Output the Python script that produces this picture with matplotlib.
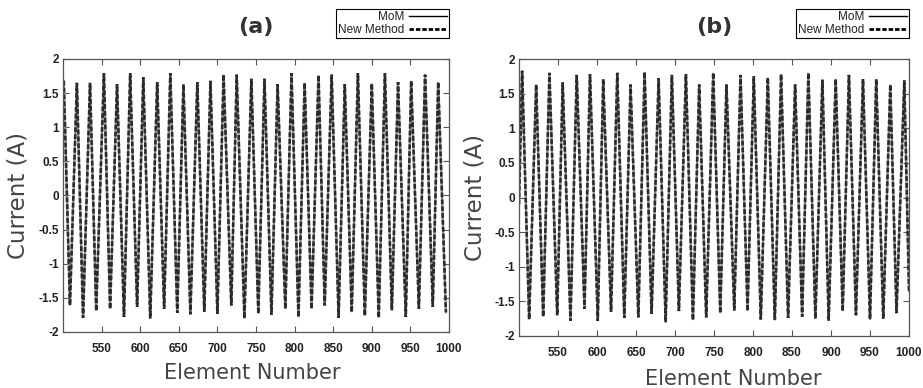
import numpy as np
import matplotlib
matplotlib.use("Agg")
import matplotlib.pyplot as plt
from matplotlib.lines import Line2D

# Current extrema along the array (element number, current in A)
peaks_a_elem = [501, 518, 535, 553, 570, 587, 604, 622, 639, 656, 674, 691, 708, 725, 744,
                761, 778, 796, 813, 831, 848, 865, 882, 900, 917, 934, 951, 969, 986]
peaks_a_curr = [1.68, 1.65, 1.65, 1.79, 1.63, 1.79, 1.73, 1.66, 1.79, 1.63, 1.66, 1.68, 1.77, 1.77, 1.71,
                1.71, 1.63, 1.79, 1.65, 1.76, 1.77, 1.63, 1.79, 1.64, 1.79, 1.66, 1.68, 1.77, 1.66]
troughs_a_elem = [509, 526, 543, 561, 579, 596, 613, 631, 648, 665, 683, 700, 718, 735, 753,
                  770, 788, 805, 822, 839, 857, 874, 891, 909, 926, 944, 961, 979, 996]
troughs_a_curr = [-1.61, -1.79, -1.69, -1.66, -1.78, -1.63, -1.80, -1.66, -1.72, -1.74, -1.70, -1.73, -1.61, -1.80, -1.73,
                  -1.75, -1.66, -1.78, -1.66, -1.61, -1.79, -1.71, -1.76, -1.79, -1.68, -1.78, -1.66, -1.63, -1.71]

peaks_b_elem = [504, 522, 539, 556, 574, 591, 608, 626, 643, 661, 679, 696, 714, 731, 749,
                766, 784, 801, 819, 836, 854, 871, 889, 906, 923, 941, 958, 976, 994]
peaks_b_curr = [1.83, 1.63, 1.80, 1.66, 1.77, 1.78, 1.71, 1.80, 1.63, 1.81, 1.72, 1.77, 1.78, 1.63, 1.80,
                1.63, 1.77, 1.75, 1.73, 1.78, 1.63, 1.80, 1.70, 1.71, 1.77, 1.71, 1.71, 1.63, 1.69]
troughs_b_elem = [513, 531, 549, 566, 584, 601, 618, 635, 653, 670, 688, 705, 723, 740,
                  758, 776, 793, 810, 828, 845, 863, 880, 897, 915, 932, 950, 967, 984]
troughs_b_curr = [-1.76, -1.72, -1.70, -1.78, -1.61, -1.78, -1.65, -1.74, -1.73, -1.68, -1.80, -1.64, -1.77, -1.73,
                  -1.67, -1.63, -1.64, -1.76, -1.77, -1.74, -1.72, -1.75, -1.78, -1.64, -1.70, -1.76, -1.75, -1.67]
edges_b_elem = [500, 1000]
edges_b_curr = [-0.10, -1.35]

panel_titles = ["(a)", "(b)"]
xticks = [550, 600, 650, 700, 750, 800, 850, 900, 950, 1000]
yticks = [-2, -1.5, -1, -0.5, 0, 0.5, 1, 1.5, 2]
ytick_labels = ["-2", "-1.5", "-1", "-0.5", "0", "0.5", "1", "1.5", "2"]


def merge(*pairs):
    x = np.concatenate([np.asarray(p[0], float) for p in pairs])
    y = np.concatenate([np.asarray(p[1], float) for p in pairs])
    order = np.argsort(x)
    return x[order], y[order]


curves = [
    merge((peaks_a_elem, peaks_a_curr), (troughs_a_elem, troughs_a_curr)),
    merge((peaks_b_elem, peaks_b_curr), (troughs_b_elem, troughs_b_curr), (edges_b_elem, edges_b_curr)),
]

W, H = 923, 388
fig = plt.figure(figsize=(W / 100, H / 100), dpi=100)

# axes boxes in pixels: left, top, right, bottom
boxes = [(63, 59, 449, 332), (519, 59, 909, 336)]
xlabel_pos = [(0.49, -0.115), (0.55, -0.118)]

for i, ((x, y), (l, t, r, b)) in enumerate(zip(curves, boxes)):
    ax = fig.add_axes([l / W, 1 - b / H, (r - l) / W, (b - t) / H])
    ax.plot(x, y, color="#8a8a8a", lw=1.6, solid_joinstyle="miter")
    ax.plot(x, y, color="#2b2b2b", lw=1.9, linestyle=(0, (1.8, 0.8)),
            dash_joinstyle="miter")

    ax.set_xlim(500, 1000)
    ax.set_ylim(-2, 2)
    ax.set_xticks(xticks)
    ax.set_yticks(yticks)
    ax.set_yticklabels(ytick_labels)
    ax.tick_params(direction="in", length=4.5, width=0.8, color="#555555",
                   top=True, right=True, labelsize=8.5, labelcolor="#222222")
    ax.tick_params(axis="x", pad=8)
    ax.tick_params(axis="y", pad=3)
    for lab in ax.get_xticklabels() + ax.get_yticklabels():
        lab.set_fontfamily("Liberation Sans")
        lab.set_fontweight("bold")
    for sp in ax.spines.values():
        sp.set_color("#555555")
        sp.set_linewidth(0.9)

    ax.set_ylabel("Current (A)", fontsize=16.5, color="#444444", family="DejaVu Sans", labelpad=6)
    ax.set_xlabel("Element Number", fontsize=15, color="#444444", family="DejaVu Sans")
    ax.xaxis.set_label_coords(*xlabel_pos[i])
    ax.set_title(panel_titles[i], fontsize=16, fontweight="bold", color="#333333",
                 family="DejaVu Sans", pad=19)

    handles = [Line2D([], [], color="black", lw=1.0),
               Line2D([], [], color="black", lw=2.0, linestyle=(0, (1.6, 0.7)))]
    leg = ax.legend(handles, ["MoM", "New Method"], loc="lower right",
                    bbox_to_anchor=(1.0, 1.0 + 21 / (b - t)), markerfirst=False,
                    fancybox=False, framealpha=1, edgecolor="black",
                    prop={"family": "Liberation Sans", "size": 8.5},
                    handlelength=3.2, handletextpad=0.4, borderpad=0.2,
                    labelspacing=0.05, borderaxespad=0)
    leg.get_frame().set_linewidth(0.8)
    for txt in leg.get_texts():
        txt.set_color("#222222")

fig.savefig("out.png", dpi=100)
